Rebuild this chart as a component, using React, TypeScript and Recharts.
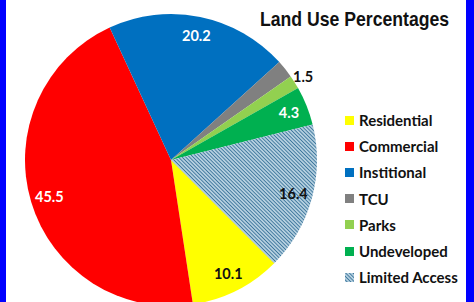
import React from "react";
import { PieChart, Pie, Cell, Legend } from "recharts";

const categories = ["Residential", "Commercial", "Institional", "TCU", "Parks", "Undeveloped", "Limited Access"];
const values = [10.1, 45.5, 20.2, 2.0, 1.5, 4.3, 16.4];
const labelTexts = ["10.1", "45.5", "20.2", "", "1.5", "4.3", "16.4"];
const colors = ["#ffff00", "#ff0000", "#0070c0", "#808080", "#92d050", "#00b050", "url(#hatchLA)"];
const labelColors = ["#111", "#fff", "#fff", "#111", "#111", "#fff", "#111"];
const title = "Land Use Percentages";

const data = categories.map((name, i) => ({ name, value: values[i] }));
const RAD = Math.PI / 180;
const FONT = "Lato, 'Open Sans', sans-serif";

const renderLabel = (props: any) => {
  const { cx, cy, midAngle, outerRadius, index } = props;
  const txt = labelTexts[index];
  if (!txt) return null;
  const f = index === 4 ? 1.07 : 0.87;
  const r = outerRadius * f;
  const x = cx + r * Math.cos(-midAngle * RAD);
  const y = cy + r * Math.sin(-midAngle * RAD);
  return (
    <text x={x} y={y} fill={labelColors[index]} textAnchor="middle" dominantBaseline="central"
      fontFamily={FONT} fontWeight={700} fontSize={14.5}>
      {txt}
    </text>
  );
};

const LegendContent = () => (
  <div style={{ fontFamily: FONT, fontWeight: 700, fontSize: 15, color: "#111", whiteSpace: "nowrap" }}>
    {categories.map((c, i) => (
      <div key={c} style={{ display: "flex", alignItems: "center", height: 26.2 }}>
        <svg width={9} height={9} style={{ marginRight: 5 }}>
          <rect width={9} height={9} fill={colors[i]} />
        </svg>
        <span>{c}</span>
      </div>
    ))}
  </div>
);

export default function App() {
  return (
    <div style={{ position: "absolute", left: 0, top: 0, width: 474, height: 302, background: "#0000ff" }}>
      <svg width={0} height={0} style={{ position: "absolute" }}>
        <defs>
          <pattern id="hatchLA" patternUnits="userSpaceOnUse" width={2.6} height={2.6} patternTransform="rotate(-45)">
            <rect width={2.6} height={2.6} fill="#b4cfdf" />
            <line x1={0} y1={0} x2={0} y2={2.6} stroke="#2a6892" strokeWidth={1.5} />
          </pattern>
        </defs>
      </svg>
      <div style={{ position: "absolute", left: 6, top: 0, width: 460, height: 302, background: "#fff" }}>
        <div style={{ position: "absolute", left: 254, top: 6, whiteSpace: "nowrap",
          transform: "scaleX(0.86)", transformOrigin: "0 0",
          fontFamily: "'Liberation Sans', Arial, sans-serif", fontWeight: 700, fontSize: 20.5,
          color: "#111", lineHeight: "26px" }}>
          {title}
        </div>
        <PieChart width={460} height={302}>
          <Pie data={data} dataKey="value" nameKey="name" cx={160} cy={155} outerRadius={146}
            startAngle={-45} endAngle={-405} stroke="none" label={renderLabel} labelLine={false}
            isAnimationActive={false}>
            {data.map((d, i) => <Cell key={d.name} fill={colors[i]} />)}
          </Pie>
          <Legend content={<LegendContent />} layout="vertical"
            wrapperStyle={{ position: "absolute", left: 339, top: 107, width: 120 }} />
        </PieChart>
      </div>
    </div>
  );
}
